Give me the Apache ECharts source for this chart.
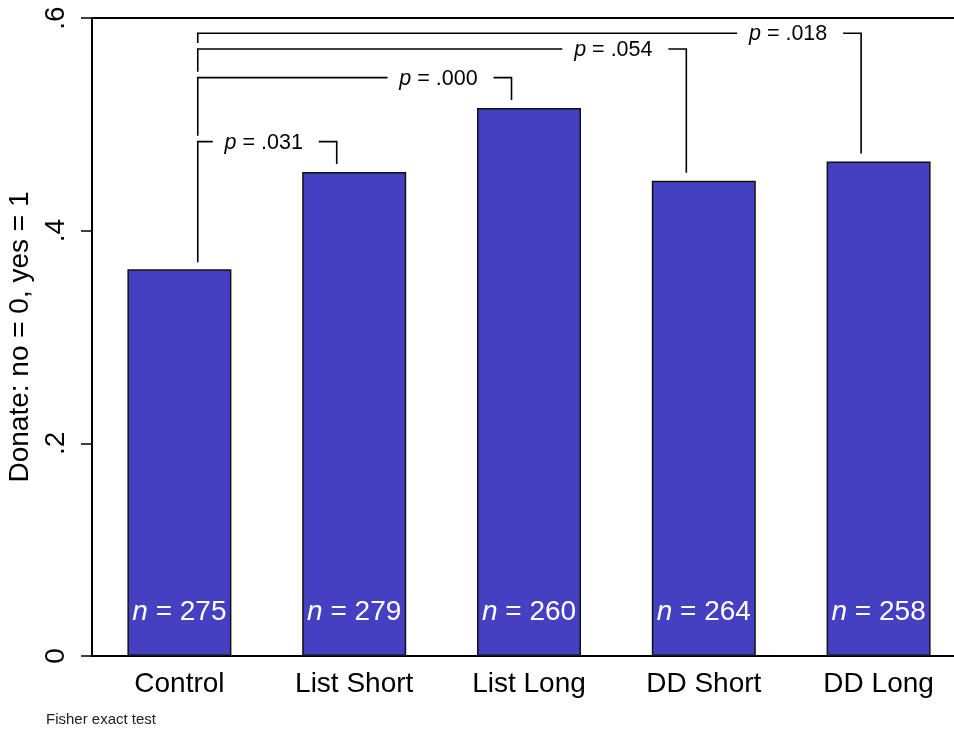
<!DOCTYPE html>
<html>
<head>
<meta charset="utf-8">
<script src="https://cdn.jsdelivr.net/npm/echarts@6/dist/echarts.min.js"></script>
<style>
html,body{margin:0;padding:0;background:#fff;}
#chart{width:954px;height:731px;}
</style>
</head>
<body>
<div id="chart"></div>
<script>
// ---- data ----
const categories = ['Control', 'List Short', 'List Long', 'DD Short', 'DD Long'];
const donateShare = [0.3636, 0.4552, 0.5154, 0.4470, 0.4651];
const sampleSizes = [275, 279, 260, 264, 258];
const yTicks = ['0', '.2', '.4', '.6'];
const bracketLeft = [0, 0, 0, 0];
const bracketRight = [1, 2, 3, 4];
const bracketLevel = [0.4837, 0.5439, 0.5709, 0.5856];
const pValues = ['.031', '.000', '.054', '.018'];
const footnote = 'Fisher exact test';
const yTitle = 'Donate: no = 0, yes = 1';

const FONT = '"Liberation Sans", Arial, Helvetica, sans-serif';
const chart = echarts.init(document.getElementById('chart'), null, {renderer: 'canvas'});

function renderBracket(params, api) {
  const i = params.dataIndex;
  const band = api.size([1, 0])[0];
  const xL = api.coord([bracketLeft[i], 0])[0] + band * 0.105;
  const xR = api.coord([bracketRight[i], 0])[0] - band * 0.1;
  const y = api.coord([0, bracketLevel[i]])[1];
  const leftBottom = i === 0
    ? api.coord([0, donateShare[bracketLeft[i]]])[1] - 7
    : api.coord([0, bracketLevel[i - 1]])[1] - 6;
  const rightBottom = api.coord([0, donateShare[bracketRight[i]]])[1] - 8;
  const gapC = xR - 71;
  const lineStyle = {stroke: '#000', lineWidth: 1.6, fill: null};
  return {
    type: 'group',
    children: [
      {type: 'polyline', shape: {points: [[xL, leftBottom], [xL, y], [gapC - 53, y]]}, style: lineStyle},
      {type: 'polyline', shape: {points: [[gapC + 53, y], [xR, y], [xR, rightBottom]]}, style: lineStyle},
      {type: 'text', style: {
        text: '{i|p} = ' + pValues[i], x: gapC - 2, y: y + 1,
        align: 'center', verticalAlign: 'middle',
        fontSize: 21.5, fontFamily: FONT, fill: '#000',
        rich: {i: {fontStyle: 'italic', fontSize: 21.5, fontFamily: FONT, fill: '#000'}}
      }}
    ]
  };
}

const option = {
  animation: false,
  backgroundColor: '#fff',
  grid: {left: 92, top: 18, width: 874, height: 638, containLabel: false,
    outerBoundsMode: 'none',
    show: true, borderColor: '#000', borderWidth: 2, backgroundColor: 'transparent'},
  xAxis: {
    type: 'category', data: categories,
    axisLine: {lineStyle: {color: '#000', width: 2}},
    axisTick: {alignWithLabel: true, length: 10, lineStyle: {color: '#000', width: 1.5}},
    axisLabel: {color: '#000', fontSize: 28, fontFamily: FONT, margin: 14, interval: 0},
    splitLine: {show: false}
  },
  yAxis: {
    type: 'value', min: 0, max: 0.6, interval: 0.2,
    name: yTitle, nameLocation: 'middle', nameRotate: 90, nameGap: 54,
    nameTextStyle: {color: '#000', fontSize: 28, fontFamily: FONT},
    axisLine: {show: true, lineStyle: {color: '#000', width: 2}},
    axisTick: {show: true, length: 11, lineStyle: {color: '#000', width: 1.5}},
    axisLabel: {color: '#000', fontSize: 28, fontFamily: FONT, rotate: 90, margin: 22,
      formatter: function (v) { return yTicks[Math.round(v / 0.2)]; }},
    splitLine: {show: false}
  },
  series: [
    {
      type: 'bar', data: donateShare, barWidth: 104,
      itemStyle: {color: '#4540c2', borderColor: '#111', borderWidth: 1.5},
      label: {
        show: true, position: 'insideBottom', distance: 30,
        formatter: function (p) { return '{i|n} = ' + sampleSizes[p.dataIndex]; },
        color: '#fff', fontSize: 28, fontFamily: FONT,
        rich: {i: {fontStyle: 'italic', color: '#fff', fontSize: 28, fontFamily: FONT}}
      },
      z: 2
    },
    {
      type: 'custom', clip: false, z: 3,
      renderItem: renderBracket,
      encode: {x: 0, y: 1},
      data: bracketLevel.map(function (v, i) { return [bracketRight[i], v]; })
    }
  ],
  graphic: [{
    type: 'text', left: 46, top: 712,
    style: {text: footnote, fontSize: 15, fontFamily: FONT, fill: '#222'}
  }]
};
chart.setOption(option);
</script>
</body>
</html>
